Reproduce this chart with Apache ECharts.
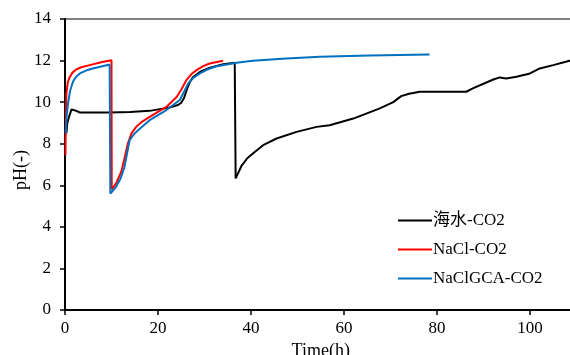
<!DOCTYPE html>
<html>
<head>
<meta charset="utf-8">
<script src="https://cdn.jsdelivr.net/npm/echarts@6/dist/echarts.min.js"></script>
<style>
  html, body { margin: 0; padding: 0; background: #fff; }
  #chart { width: 570px; height: 355px; }
</style>
</head>
<body>
<div id="chart"></div>
<script>
// 海水-CO2
const seaTime = [0.3, 0.5, 0.8, 1.4, 2.2, 3.2, 6, 9.6, 14, 18.2, 22.5, 24.3, 25.0, 25.6, 26.2, 26.8, 27.5, 29, 31, 34, 36.5,
  36.7, 38, 39.2, 40.4, 42.6, 45.5, 49.8, 54.1, 56.9, 62, 67.7, 70.6, 72.3, 74, 76.3, 82, 86.3, 87.7, 92.1, 93.5, 94.9, 97.1, 100, 102.1, 105, 108.5, 110];
const seaPH = [8.5, 9.0, 9.25, 9.65, 9.6, 9.5, 9.5, 9.5, 9.53, 9.58, 9.74, 9.86, 9.97, 10.2, 10.6, 10.95, 11.2, 11.45, 11.65, 11.82, 11.9,
  6.33, 6.95, 7.3, 7.53, 7.93, 8.25, 8.57, 8.81, 8.89, 9.21, 9.7, 10.0, 10.29, 10.4, 10.5, 10.5, 10.5, 10.66, 11.09, 11.19, 11.14, 11.22, 11.38, 11.62, 11.78, 11.99, 12.0];
// NaCl-CO2
const naclTime = [0.1, 0.2, 0.3, 0.6, 1.0, 1.6, 2.4, 3.5, 5.3, 8, 10.0, 10.05, 11, 12.1, 12.8, 13.5, 14.3, 15.3, 16.5, 18.2, 21.8, 24.0, 25.0, 26.1, 27.2, 28.3, 29.6, 31.1, 34.0];
const naclPH = [7.45, 9.4, 10.4, 10.95, 11.2, 11.42, 11.57, 11.68, 11.78, 11.93, 12.02, 5.8, 6.1, 6.65, 7.3, 8.0, 8.5, 8.81, 9.05, 9.29, 9.77, 10.25, 10.6, 11.06, 11.35, 11.54, 11.72, 11.86, 11.99];
// NaClGCA-CO2
const gcaTime = [0.15, 0.35, 0.65, 1.1, 1.7, 2.4, 3.2, 4.5, 6.0, 9.6, 9.75, 11.0, 12.0, 12.8, 13.4, 13.9, 14.8, 15.7, 18.2, 21.8, 24.7, 25.6, 26.5, 27.6, 29.0, 30.6, 32.6, 36.9, 40.4, 47.6, 54.8, 65.5, 78.4];
const gcaPH = [8.5, 9.3, 9.94, 10.55, 10.98, 11.22, 11.38, 11.52, 11.62, 11.81, 5.6, 5.93, 6.35, 6.89, 7.6, 8.17, 8.45, 8.65, 9.13, 9.62, 10.1, 10.5, 10.9, 11.17, 11.38, 11.57, 11.73, 11.9, 11.99, 12.1, 12.18, 12.24, 12.29];

const seriesNames = ["海水-CO2", "NaCl-CO2", "NaClGCA-CO2"];
const seriesColors = ["#000000", "#ff0000", "#0070c0"];

const zip = (xs, ys) => xs.map((x, i) => [x, ys[i]]);
const seriesData = [zip(seaTime, seaPH), zip(naclTime, naclPH), zip(gcaTime, gcaPH)];

const font = "'Times New Roman', 'Liberation Serif', 'Noto Sans CJK SC', serif";

const chart = echarts.init(document.getElementById("chart"));
const option = {
  animation: false,
  grid: {
    left: 65,
    right: -6.5,
    top: 19,
    bottom: 45,
    outerBoundsMode: "none",
    containLabel: false,
    show: true,
    borderColor: "#000",
    borderWidth: 1,
  },
  legend: {
    orient: "vertical",
    left: 398,
    top: 212,
    padding: 0,
    icon: "rect",
    itemWidth: 34,
    itemHeight: 2,
    itemGap: 12,
    textStyle: { fontFamily: font, fontSize: 17, color: "#000", padding: [0, 0, 0, -4] },
    data: seriesNames,
  },
  xAxis: {
    type: "value",
    min: 0,
    max: 110,
    interval: 20,
    name: "Time(h)",
    nameLocation: "middle",
    nameGap: 32,
    nameMoveOverlap: false,
    nameTextStyle: { fontFamily: font, fontSize: 18, color: "#000" },
    axisLine: { lineStyle: { color: "#000", width: 2 } },
    axisTick: { inside: false, length: 5, lineStyle: { color: "#000", width: 1.5 } },
    axisLabel: {
      fontFamily: font, fontSize: 17, color: "#000", margin: 10,
      showMaxLabel: false,
      formatter: (v) => (v % 20 === 0 ? String(v) : ""),
    },
    splitLine: { show: false },
  },
  yAxis: {
    type: "value",
    min: 0,
    max: 14,
    interval: 2,
    name: "pH(-)",
    nameLocation: "middle",
    nameGap: 35,
    nameMoveOverlap: false,
    nameTextStyle: { fontFamily: font, fontSize: 18, color: "#000", padding: [0, 11, 0, 0] },
    axisLine: { show: true, lineStyle: { color: "#000", width: 2 } },
    axisTick: { show: true, inside: false, length: 5, lineStyle: { color: "#000", width: 1.5 } },
    axisLabel: { fontFamily: font, fontSize: 17, color: "#000", margin: 14 },
    splitLine: { show: false },
  },
  series: seriesNames.map((name, i) => ({
    name,
    type: "line",
    data: seriesData[i],
    showSymbol: false,
    smooth: false,
    lineStyle: { color: seriesColors[i], width: 2 },
    itemStyle: { color: seriesColors[i] },
  })),
};
chart.setOption(option);
</script>
</body>
</html>
